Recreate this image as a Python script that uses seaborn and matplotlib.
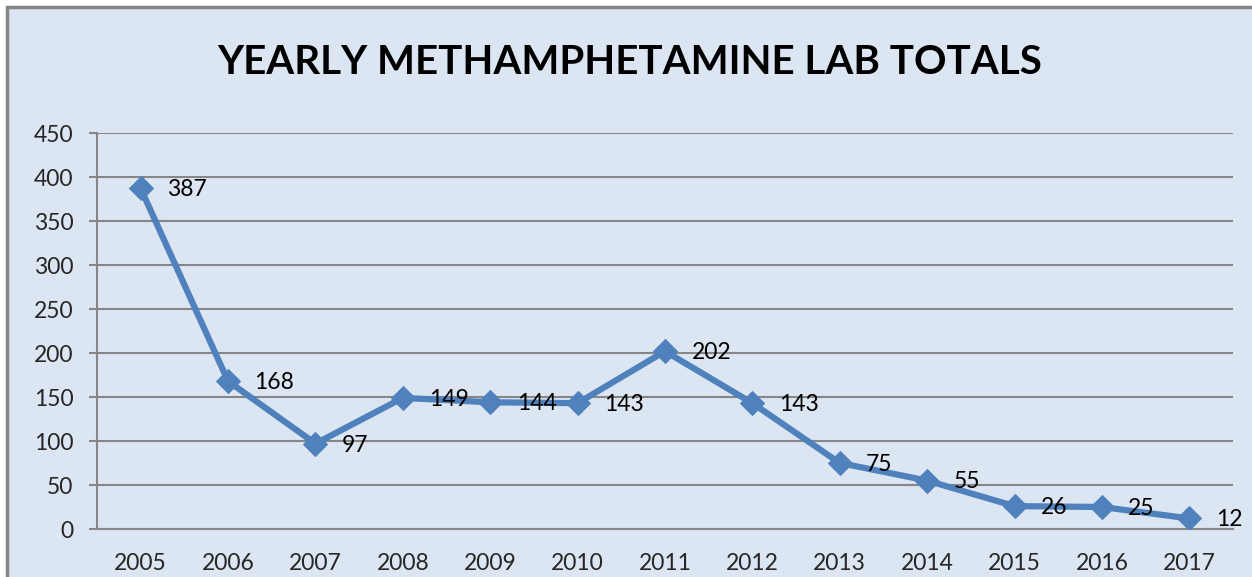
import matplotlib
matplotlib.use("Agg")
import matplotlib.pyplot as plt
import seaborn as sns
import pandas as pd
from matplotlib.patches import Rectangle

years = ["2005", "2006", "2007", "2008", "2009", "2010", "2011",
         "2012", "2013", "2014", "2015", "2016", "2017"]
labs = [387, 168, 97, 149, 144, 143, 202, 143, 75, 55, 26, 25, 12]
y_ticks = [0, 50, 100, 150, 200, 250, 300, 350, 400, 450]

sns.set_theme(style="white")
plt.rcParams['font.family'] = ['Lato', 'DejaVu Sans']

W, H = 1252, 577
fig = plt.figure(figsize=(W / 100, H / 100), dpi=100)
fig.patch.set_facecolor("white")
bg = "#DCE6F2"
fig.patches.append(Rectangle((7 / W, -0.1), 1.2, 1 - 7 / H + 0.1,
                             transform=fig.transFigure, facecolor=bg,
                             edgecolor="#868686", linewidth=2.5, zorder=-5))

ax = fig.add_axes([97 / W, 1 - 529 / H, (1233 - 97) / W, (529 - 133) / H])
ax.set_facecolor("none")
ax.set_zorder(2)

df = pd.DataFrame({"idx": list(range(len(years))), "labs": labs})
color = "#4F81BD"
sns.lineplot(data=df, x="idx", y="labs", ax=ax, color=color, linewidth=4.5,
             marker="D", markersize=12, markeredgecolor=color,
             markerfacecolor=color, zorder=3)

for i, v in enumerate(labs):
    ax.annotate(str(v), (i, v), xytext=(19, -1), textcoords="offset points",
                ha="left", va="center", fontsize=16.5, color="black", zorder=4)

ax.set_xlim(-0.5, len(years) - 0.5)
ax.set_ylim(0, 450)
ax.set_yticks(y_ticks)
ax.set_yticklabels([str(t) for t in y_ticks], fontsize=16.5)
ax.yaxis.grid(True, color="#868686", linewidth=1.5)
ax.set_axisbelow(True)

ax.set_xticks(range(len(years)))
ax.set_xticklabels(years, fontsize=16.5)
ax.set_xticks([i - 0.5 for i in range(len(years) + 1)], minor=True)
ax.tick_params(axis="x", which="major", length=0, pad=17)
ax.tick_params(axis="x", which="minor", length=6, width=1.5, color="#868686", direction="out")
ax.tick_params(axis="y", length=6, width=1.5, color="#868686", direction="out", pad=11, left=True)

for s in ["top", "right"]:
    ax.spines[s].set_visible(False)
for s in ["left", "bottom"]:
    ax.spines[s].set_color("#868686")
    ax.spines[s].set_linewidth(1.5)

ax.set_xlabel("")
ax.set_ylabel("")

fig.text(630 / W, 1 - 63 / H, "YEARLY METHAMPHETAMINE LAB TOTALS",
         ha="center", va="center", fontsize=29, fontweight="bold", color="black")

fig.savefig("out.png", dpi=100, facecolor="white")
